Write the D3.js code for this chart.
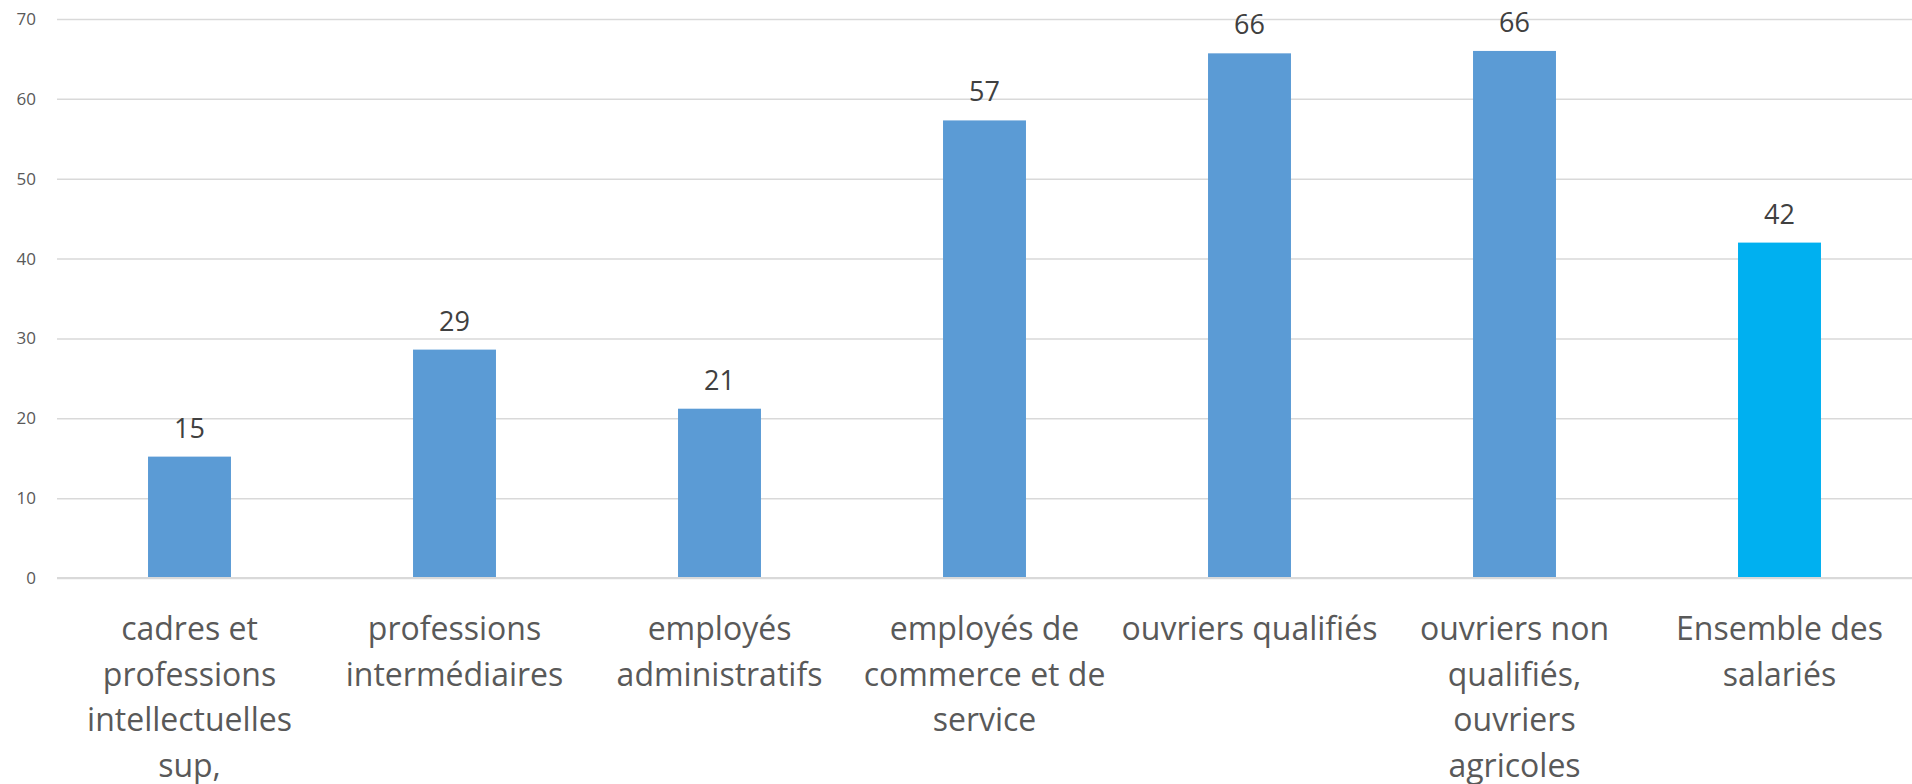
<!DOCTYPE html>
<html>
<head>
<meta charset="utf-8">
<script src="https://cdn.jsdelivr.net/npm/d3@7"></script>
<style>
    body { margin: 0; background: #fff; }
    svg { display: block; font-family: "Open Sans", sans-serif; }
</style>
</head>
<body>
<svg id="bar-chart" width="1912" height="784"></svg>
<script>
// categories, each split over the lines used in the picture
const categories = [
    ["cadres et", "professions", "intellectuelles", "sup,"],
    ["professions", "intermédiaires"],
    ["employés", "administratifs"],
    ["employés de", "commerce et de", "service"],
    ["ouvriers qualifiés"],
    ["ouvriers non", "qualifiés,", "ouvriers", "agricoles"],
    ["Ensemble des", "salariés"]
];
const values = [15.2, 28.6, 21.2, 57.3, 65.7, 66.0, 42.0];
const yTicks = [0, 10, 20, 30, 40, 50, 60, 70];

const barColor = "#5B9BD5";
const totalColor = "#00B0F0";

const svg = d3.select("#bar-chart");

const plotLeft = 57, plotRight = 1912, plotTop = 19, plotBottom = 578;

const xScale = d3.scaleBand()
    .domain(d3.range(categories.length))
    .range([plotLeft, plotRight])
    .paddingInner(0.687)
    .paddingOuter(0.3435);

const yScale = d3.scaleLinear()
    .domain([0, 70])
    .range([plotBottom, plotTop]);

// gridlines + y labels
const yAxis = svg.append("g")
    .attr("transform", "translate(" + plotLeft + ",0)")
    .call(d3.axisLeft(yScale)
        .tickValues(yTicks)
        .tickSize(-(plotRight - plotLeft))
        .tickPadding(21));

yAxis.select(".domain").remove();
yAxis.selectAll(".tick line")
    .attr("stroke", "#D9D9D9")
    .attr("stroke-width", 1.5);
yAxis.selectAll(".tick text")
    .attr("fill", "#595959")
    .style("font-size", "17px")
    .style("font-family", "Open Sans, sans-serif");

// bars
svg.selectAll("rect.bar")
    .data(values)
    .enter()
    .append("rect")
    .attr("class", "bar")
    .attr("x", (d, i) => xScale(i))
    .attr("y", d => yScale(d))
    .attr("width", xScale.bandwidth())
    .attr("height", d => yScale(0) - yScale(d))
    .attr("fill", (d, i) => i === values.length - 1 ? totalColor : barColor);

// axis line at zero
svg.append("line")
    .attr("x1", plotLeft)
    .attr("x2", plotRight)
    .attr("y1", yScale(0))
    .attr("y2", yScale(0))
    .attr("stroke", "#D9D9D9")
    .attr("stroke-width", 2);

// value labels
svg.selectAll("text.value")
    .data(values)
    .enter()
    .append("text")
    .attr("class", "value")
    .attr("x", (d, i) => xScale(i) + xScale.bandwidth() / 2)
    .attr("y", d => yScale(d) - 19)
    .attr("text-anchor", "middle")
    .attr("fill", "#404040")
    .style("font-size", "27px")
    .text(d => d3.format(".0f")(d));

// category labels
const catLabels = svg.selectAll("text.category")
    .data(categories)
    .enter()
    .append("text")
    .attr("class", "category")
    .attr("text-anchor", "middle")
    .attr("fill", "#595959")
    .style("font-size", "32px");

catLabels.selectAll("tspan")
    .data((d, i) => d.map(line => ({ line: line, i: i })))
    .enter()
    .append("tspan")
    .attr("x", d => xScale(d.i) + xScale.bandwidth() / 2)
    .attr("y", (d, j) => 640 + j * 45.6)
    .text(d => d.line);
</script>
</body>
</html>
